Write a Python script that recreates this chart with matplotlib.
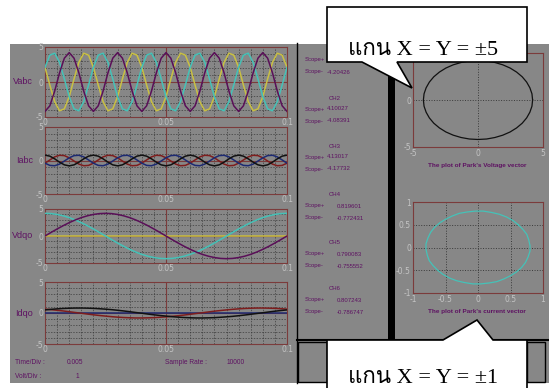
import matplotlib.pyplot as plt
import numpy as np
from matplotlib import font_manager
from matplotlib.ft2font import FT2Font
from matplotlib.patches import Rectangle, Polygon

W, H = 549, 388

GREY = '#878787'
FRAME = '#7b3b3b'
GRID = '#3a3a3a'
TICK = '#c4c4c4'
TXT = '#5e1262'
PURPLE, CYAN, YELLOW = '#5a0f58', '#45c2b8', '#c9c043'
BLACK, RED, BLUE = '#111111', '#7e1d1d', '#1d2a72'

# ---- data ----
# three-phase voltages / currents, 50 Hz, sampled every 2 ms
t_abc = np.linspace(0, 0.1, 51)
va = [-4.2, -3.4, -1.3, 1.3, 3.4, 4.2, 3.4, 1.3, -1.3, -3.4] * 5 + [-4.2]
vb = [2.1, 3.84, 4.11, 2.81, 0.44, -2.1, -3.84, -4.11, -2.81, -0.44] * 5 + [2.1]
vc = [2.1, -0.44, -2.81, -4.11, -3.84, -2.1, 0.44, 2.81, 4.11, 3.84] * 5 + [2.1]
ia = [0.8, 0.65, 0.25, -0.25, -0.65, -0.8, -0.65, -0.25, 0.25, 0.65] * 5 + [0.8]
ib = [-0.4, 0.08, 0.54, 0.78, 0.73, 0.4, -0.08, -0.54, -0.78, -0.73] * 5 + [-0.4]
ic = [-0.4, -0.73, -0.78, -0.54, -0.08, 0.4, 0.73, 0.78, 0.54, 0.08] * 5 + [-0.4]

# dq0 quantities, sampled every 2.5 ms
t_dq = np.linspace(0, 0.1, 41)
vq = [0, 0.66, 1.30, 1.91, 2.47, 2.97, 3.40, 3.74, 3.99, 4.15, 4.20,
      4.15, 3.99, 3.74, 3.40, 2.97, 2.47, 1.91, 1.30, 0.66, 0,
      -0.66, -1.30, -1.91, -2.47, -2.97, -3.40, -3.74, -3.99, -4.15, -4.20,
      -4.15, -3.99, -3.74, -3.40, -2.97, -2.47, -1.91, -1.30, -0.66, 0]
vd = [4.20, 4.15, 3.99, 3.74, 3.40, 2.97, 2.47, 1.91, 1.30, 0.66, 0,
      -0.66, -1.30, -1.91, -2.47, -2.97, -3.40, -3.74, -3.99, -4.15, -4.20,
      -4.15, -3.99, -3.74, -3.40, -2.97, -2.47, -1.91, -1.30, -0.66, 0,
      0.66, 1.30, 1.91, 2.47, 2.97, 3.40, 3.74, 3.99, 4.15, 4.20]
v0 = [0] * 41
id_ = [0.62, 0.54, 0.44, 0.33, 0.21, 0.08, -0.04, -0.17, -0.29, -0.40,
       -0.50, -0.59, -0.67, -0.73, -0.77, -0.80, -0.80, -0.78, -0.75, -0.69,
       -0.62, -0.54, -0.44, -0.33, -0.21, -0.08, 0.04, 0.17, 0.29, 0.40,
       0.50, 0.59, 0.67, 0.73, 0.77, 0.80, 0.80, 0.78, 0.75, 0.69, 0.62]
iq = [0.50, 0.59, 0.67, 0.73, 0.77, 0.80, 0.80, 0.78, 0.75, 0.69,
      0.62, 0.54, 0.44, 0.33, 0.21, 0.08, -0.04, -0.17, -0.29, -0.40,
      -0.50, -0.59, -0.67, -0.73, -0.77, -0.80, -0.80, -0.78, -0.75, -0.69,
      -0.62, -0.54, -0.44, -0.33, -0.21, -0.08, 0.04, 0.17, 0.29, 0.40, 0.50]
i0 = [0] * 41

channels = ['CH1', 'CH2', 'CH3', 'CH4', 'CH5', 'CH6']
scope_plus = ['4.21588', '4.10027', '4.13017', '0.819601', '0.790083', '0.807243']
scope_minus = ['-4.20426', '-4.08391', '-4.17732', '-0.772431', '-0.755552', '-0.786747']

time_div = '0.005'
volt_div = '1'
sample_rate = '10000'


def find_font(ch):
    for f in font_manager.fontManager.ttflist:
        if 'CJK' in f.name:
            continue
        try:
            if ord(ch) in FT2Font(f.fname).get_charmap():
                return f.name
        except Exception:
            pass
    return 'DejaVu Sans'


thai_font = find_font('\u0e41')


def px(x0, y0, x1, y1):
    return [x0 / W, 1 - y1 / H, (x1 - x0) / W, (y1 - y0) / H]


fig = plt.figure(figsize=(W / 100, H / 100), dpi=100)
fig.patch.set_facecolor('white')

# background panels
bg = fig.add_axes([0, 0, 1, 1])
bg.set_xlim(0, W)
bg.set_ylim(H, 0)
bg.axis('off')
bg.add_patch(Rectangle((10, 44), W - 10, 339, color=GREY, lw=0))
bg.plot([297, 297], [43, 383], color='black', lw=1)
bg.add_patch(Rectangle((388, 60), 7, 280, color='black', lw=0))
bg.plot([297, W], [340, 340], color='black', lw=1.5)
bg.add_patch(Rectangle((298, 342), 29, 40, fc=GREY, ec='black', lw=1))
bg.add_patch(Rectangle((527, 342), 18, 40, fc=GREY, ec='black', lw=1))


def scope(rect, label, t, series, colors):
    ax = fig.add_axes(px(*rect))
    ax.set_facecolor(GREY)
    for y, c in zip(series, colors):
        ax.plot(t, y, color=c, lw=1.1, zorder=3)
    ax.set_xlim(0, 0.1)
    ax.set_ylim(-5, 5)
    ax.set_xticks([0, 0.05, 0.1], ['0', '0.05', '0.1'])
    ax.set_xticks(np.linspace(0, 0.1, 21), minor=True)
    ax.set_yticks([-5, 0, 5], ['-5', '0', '5'])
    ax.set_yticks(np.arange(-5, 6), minor=True)
    ax.grid(which='both', color=GRID, linestyle=(0, (2, 2)), lw=0.5)
    ax.axvline(0.05, color=FRAME, lw=0.8, zorder=2)
    ax.axhline(0, color=FRAME, lw=0.8, zorder=2)
    ax.tick_params(which='both', length=0, labelsize=5.5, labelcolor=TICK, pad=1)
    for s in ax.spines.values():
        s.set_color(FRAME)
        s.set_linewidth(0.8)
    ax.text(-0.05, 0.5, label, transform=ax.transAxes, ha='right', va='center',
            fontsize=6.5, color=TXT, family='Liberation Sans')
    return ax


scope((45, 47, 287, 117), 'Vabc', t_abc, [vc, vb, va], [YELLOW, CYAN, PURPLE])
scope((45, 127, 287, 194), 'Iabc', t_abc, [ib, ic, ia], [RED, BLUE, BLACK])
scope((45, 209, 287, 263), 'Vdqo', t_dq, [v0, vd, vq], [YELLOW, CYAN, PURPLE])
scope((45, 282, 287, 344), 'Idqo', t_dq, [i0, id_, iq], [BLUE, RED, BLACK])


def vector(rect, x, y, color, lim, ticks, xlabels, ylabels):
    ax = fig.add_axes(px(*rect))
    ax.set_facecolor(GREY)
    ax.plot(x, y, color=color, lw=0.9, zorder=3)
    ax.set_xlim(-lim, lim)
    ax.set_ylim(-lim, lim)
    ax.set_xticks(ticks, xlabels)
    ax.set_yticks(ticks, ylabels)
    ax.grid(color=GRID, linestyle=':', lw=0.7)
    ax.tick_params(length=0, labelsize=5.5, labelcolor=TICK, pad=1.5)
    for s in ax.spines.values():
        s.set_color(FRAME)
        s.set_linewidth(0.8)
    return ax


# top "5" of the voltage plot sits under the callout box
vector((413, 53, 543, 147), vd, vq, BLACK, 5, [-5, 0, 5],
       ['-5', '0', '5'], ['-5', '0', ''])
vector((413, 202, 543, 293), id_, iq, CYAN, 1, [-1, -0.5, 0, 0.5, 1],
       ['-1', '-0.5', '0', '0.5', '1'], ['-1', '-0.5', '0', '0.5', '1'])
bg.text(477, 165, "The plot of Park's Voltage vector", ha='center', va='center',
        fontsize=4.6, color=TXT, weight='bold', family='Liberation Sans')
bg.text(477, 312, "The plot of Park's current vector", ha='center', va='center',
        fontsize=4.6, color=TXT, weight='bold', family='Liberation Sans')

# scope readings
block_y = [49, 98, 146, 195, 243, 289]
value_x = [327, 327, 327, 337, 337, 337]
for name, sp, sm, y0, vx in zip(channels, scope_plus, scope_minus, block_y, value_x):
    kw = dict(fontsize=4.3, color=TXT, family='Liberation Sans', va='center')
    bg.text(335, y0, name, ha='center', **kw)
    bg.text(305, y0 + 11, 'Scope+', ha='left', **kw)
    bg.text(vx, y0 + 11, sp, ha='left', **kw)
    bg.text(305, y0 + 23, 'Scope-', ha='left', **kw)
    bg.text(vx, y0 + 23, sm, ha='left', **kw)

kw = dict(fontsize=4.8, color=TXT, family='Liberation Sans', va='center', ha='left')
bg.text(15, 363, 'Time/Div :', **kw)
bg.text(67, 363, time_div, **kw)
bg.text(165, 363, 'Sample Rate :', **kw)
bg.text(227, 363, sample_rate, **kw)
bg.text(15, 377, 'Volt/Div :', **kw)
bg.text(76, 377, volt_div, **kw)

# callouts on top
ov = fig.add_axes([0, 0, 1, 1], zorder=10)
ov.set_xlim(0, W)
ov.set_ylim(H, 0)
ov.axis('off')
ov.add_patch(Polygon([(327, 7), (527, 7), (527, 62), (397, 62), (412, 88),
                      (362, 62), (327, 62)], closed=True, fc='white', ec='black', lw=1.2))
ov.add_patch(Polygon([(327, 340), (443, 340), (477, 320), (493, 340), (527, 340),
                      (527, 400), (327, 400)], closed=True, fc='white', ec='black',
                     lw=1.2, clip_on=False))
fam = ['Liberation Serif', thai_font, 'DejaVu Sans']
ov.text(348, 55, '\u0e41\u0e01\u0e19 X = Y = \u00b15', ha='left', va='baseline',
        fontsize=16, family=fam)
ov.text(348, 383, '\u0e41\u0e01\u0e19 X = Y = \u00b11', ha='left', va='baseline',
        fontsize=16, family=fam)

fig.savefig('out.png', dpi=100)
